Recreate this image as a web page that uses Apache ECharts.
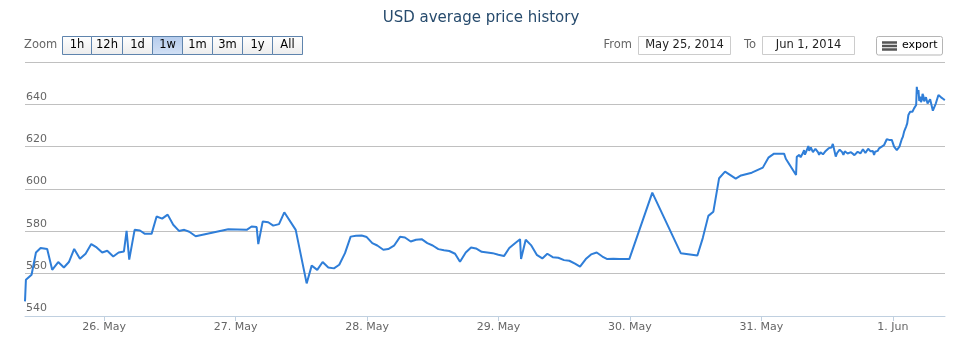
<!DOCTYPE html>
<html>
<head>
<meta charset="utf-8">
<title>USD average price history</title>
<script src="https://cdn.jsdelivr.net/npm/echarts@6/dist/echarts.min.js"></script>
<style>
  html, body { margin: 0; padding: 0; background: #fff; }
  #chart { width: 962px; height: 341px; }
</style>
</head>
<body>
<div id="chart"></div>
<script>
// Average USD price, one array per UTC day: [time, price]
var may25 = [
  ['09:32', 546.9], ['09:42', 557.1], ['10:44', 559.5], ['11:32', 570.0], ['12:23', 572.1],
  ['13:35', 571.7], ['14:30', 561.8], ['15:36', 565.5], ['16:38', 562.9], ['17:33', 565.5],
  ['18:31', 571.7], ['19:34', 567.0], ['20:36', 569.4], ['21:38', 574.0], ['22:37', 572.4],
  ['23:38', 570.0]
];
var may26 = [
  ['00:33', 570.8], ['01:39', 568.1], ['02:38', 570.0], ['03:36', 570.5], ['04:05', 580.2],
  ['04:34', 566.6], ['05:33', 580.7], ['06:31', 580.4], ['07:26', 578.8], ['08:39', 578.8],
  ['09:34', 587.0], ['10:35', 586.0], ['11:35', 587.9], ['12:36', 583.1], ['13:39', 580.2],
  ['14:37', 580.7], ['15:32', 579.8], ['16:42', 577.7], ['22:39', 581.0]
];
var may27 = [
  ['02:01', 580.7], ['02:55', 582.3], ['03:50', 582.0], ['04:08', 574.0], ['04:56', 584.6],
  ['05:57', 584.3], ['06:52', 582.7], ['07:55', 583.4], ['08:53', 589.0], ['10:58', 580.7],
  ['12:58', 555.4], ['13:53', 563.8], ['14:54', 561.8], ['15:53', 565.5], ['16:55', 562.9],
  ['17:57', 562.5], ['18:55', 564.2], ['19:58', 569.7], ['21:00', 577.5], ['21:58', 577.9],
  ['23:01', 578.0], ['23:56', 577.3]
];
var may28 = [
  ['00:57', 574.4], ['01:52', 573.3], ['02:58', 571.3], ['03:52', 571.6], ['04:55', 573.2],
  ['06:01', 577.4], ['06:55', 577.1], ['07:58', 575.2], ['08:56', 576.0], ['09:58', 576.3],
  ['11:00', 574.4], ['11:59', 573.3], ['13:01', 571.6], ['14:03', 571.1], ['15:01', 570.7],
  ['16:04', 569.4], ['16:58', 565.6], ['18:01', 570.0], ['18:59', 572.4], ['19:53', 571.9],
  ['20:56', 570.3], ['21:57', 570.0], ['22:56', 569.7], ['23:58', 568.9]
];
var may29 = [
  ['01:00', 568.3], ['01:58', 572.1], ['03:01', 574.4], ['03:56', 576.3], ['04:07', 566.9],
  ['04:58', 576.0], ['05:56', 573.5], ['06:59', 568.9], ['08:00', 567.2], ['08:55', 569.4],
  ['09:54', 567.8], ['10:55', 567.5], ['11:58', 566.4], ['12:56', 566.1], ['13:58', 564.7],
  ['14:53', 563.3], ['15:56', 566.9], ['16:54', 569.1], ['17:56', 570.0], ['18:58', 568.1],
  ['19:52', 566.9], ['20:58', 567.0], ['22:04', 566.9], ['23:53', 566.9]
];
var may30 = [
  ['04:05', 598.3], ['09:17', 569.7], ['12:19', 568.6], ['13:18', 576.8], ['14:19', 587.3],
  ['15:14', 589.3], ['16:17', 605.1], ['17:22', 608.2], ['19:19', 604.9], ['20:17', 606.4],
  ['22:15', 607.7]
];
var may31 = [
  ['00:16', 610.1], ['01:17', 614.8], ['02:19', 616.7], ['04:09', 616.7], ['04:28', 614.3],
  ['06:20', 606.6], ['06:28', 615.2], ['06:40', 614.6], ['06:56', 616.1], ['07:10', 615.0],
  ['07:23', 615.6], ['07:35', 617.0], ['07:48', 618.4], ['07:57', 616.2], ['08:07', 617.2],
  ['08:20', 616.8], ['08:35', 620.3], ['08:44', 618.0], ['08:53', 617.6], ['09:02', 619.6],
  ['09:12', 619.2], ['09:25', 617.4], ['09:38', 618.1], ['09:52', 619.0], ['10:07', 618.4],
  ['10:20', 617.4], ['10:33', 616.1], ['10:47', 617.4], ['11:02', 617.9], ['11:15', 616.4],
  ['11:30', 616.9], ['11:45', 618.0], ['12:03', 618.4], ['12:18', 619.3], ['12:33', 620.0],
  ['12:48', 619.6], ['13:03', 621.3], ['13:20', 618.2], ['13:35', 615.3], ['13:50', 617.0],
  ['14:04', 617.6], ['14:18', 618.6], ['14:33', 619.2], ['14:45', 617.4], ['14:59', 616.1],
  ['15:14', 617.8], ['15:28', 618.1], ['15:45', 616.8], ['16:04', 616.6], ['16:22', 617.4],
  ['16:41', 616.6], ['17:00', 616.0], ['17:18', 616.6], ['17:35', 617.6], ['17:51', 618.1],
  ['18:05', 616.8], ['18:20', 617.2], ['18:33', 618.8], ['18:46', 618.4], ['19:00', 617.0],
  ['19:15', 617.6], ['19:30', 619.0], ['19:44', 618.4], ['19:57', 617.8], ['20:10', 617.2],
  ['20:22', 617.9], ['20:35', 616.1], ['20:46', 617.6], ['20:57', 618.4], ['21:14', 618.0],
  ['21:30', 619.2], ['21:45', 619.0], ['21:59', 620.0], ['22:12', 619.6], ['22:25', 620.8],
  ['22:40', 621.5], ['22:54', 623.5], ['23:07', 622.6], ['23:20', 623.2], ['23:35', 622.8],
  ['23:49', 623.2]
];
var jun01 = [
  ['00:14', 620.0], ['00:44', 618.4], ['01:13', 620.0], ['01:38', 623.5], ['01:50', 624.6],
  ['02:04', 627.1], ['02:15', 626.6], ['02:26', 629.5], ['02:38', 631.0], ['02:51', 635.0],
  ['03:10', 636.5], ['03:22', 635.6], ['03:35', 636.5], ['03:53', 638.1], ['04:05', 638.4],
  ['04:16', 639.7], ['04:23', 648.3], ['04:32', 645.0], ['04:41', 646.7], ['04:50', 641.6],
  ['04:59', 643.6], ['05:08', 641.0], ['05:18', 642.0], ['05:26', 645.0], ['05:35', 643.9],
  ['05:44', 641.4], ['05:54', 640.8], ['06:03', 643.4], ['06:13', 642.8], ['06:21', 640.4],
  ['06:30', 641.2], ['06:49', 642.4], ['07:19', 637.0], ['07:52', 640.5], ['08:20', 644.4],
  ['08:49', 643.3], ['09:14', 642.5], ['09:30', 642.0]
];

// Days of the series, in order: [year, month (0-based), day, points]
var days = [
  [2014, 4, 25, may25], [2014, 4, 26, may26], [2014, 4, 27, may27], [2014, 4, 28, may28],
  [2014, 4, 29, may29], [2014, 4, 30, may30], [2014, 4, 31, may31], [2014, 5, 1, jun01]
];

// X axis ticks (midnight UTC) and their labels
var tickDays = [[2014, 4, 26], [2014, 4, 27], [2014, 4, 28], [2014, 4, 29], [2014, 4, 30], [2014, 4, 31], [2014, 5, 1]];
var tickLabels = ['26. May', '27. May', '28. May', '29. May', '30. May', '31. May', '1. Jun'];

// Y axis
var yMin = 540, yMax = 660, yStep = 20;

// Range selector / inputs
var zoomButtons = ['1h', '12h', '1d', '1w', '1m', '3m', '1y', 'All'];
var selectedButton = '1w';
var fromText = 'May 25, 2014';
var toText = 'Jun 1, 2014';

var seriesData = [];
days.forEach(function (d) {
  d[3].forEach(function (p) {
    var hm = p[0].split(':');
    seriesData.push([Date.UTC(d[0], d[1], d[2], +hm[0], +hm[1]), p[1]]);
  });
});
var tickValues = tickDays.map(function (t) { return Date.UTC(t[0], t[1], t[2]); });
var xMin = Date.UTC(2014, 4, 25, 9, 32);
var xMax = Date.UTC(2014, 5, 1, 9, 32);

var FONT = 'DejaVu Sans';
var UI_FONT = '11.5px ' + FONT;

// Range selector buttons and the date inputs are drawn as graphic elements
var graphics = [];
graphics.push({
  type: 'text',
  style: { text: 'Zoom', x: 24, y: 45.5, verticalAlign: 'middle', fill: '#666', font: UI_FONT }
});
var btnEdges = [62.5, 91.5, 122.5, 152.5, 182.5, 212.5, 242.5, 272.5, 302.5];
zoomButtons.forEach(function (label, i) {
  var x0 = btnEdges[i], x1 = btnEdges[i + 1];
  var sel = label === selectedButton;
  graphics.push({
    type: 'rect',
    shape: { x: x0, y: 36.5, width: x1 - x0, height: 18 },
    style: {
      fill: new echarts.graphic.LinearGradient(0, 0, 0, 1, sel
        ? [{ offset: 0, color: '#b4cbec' }, { offset: 1, color: '#d3e1f5' }]
        : [{ offset: 0, color: '#ffffff' }, { offset: 1, color: '#ececec' }]),
      stroke: '#5f84ad', lineWidth: 1
    }
  });
  graphics.push({
    type: 'text',
    style: {
      text: label, x: (x0 + x1) / 2, y: 45.5, align: 'center', verticalAlign: 'middle',
      fill: '#000', font: UI_FONT
    }
  });
});

graphics.push({
  type: 'text',
  style: { text: 'From', x: 632, y: 45.5, align: 'right', verticalAlign: 'middle', fill: '#666', font: UI_FONT }
});
graphics.push({
  type: 'rect', shape: { x: 638.5, y: 36.5, width: 92, height: 18 },
  style: { fill: '#fff', stroke: '#cccccc', lineWidth: 1 }
});
graphics.push({
  type: 'text',
  style: { text: fromText, x: 684.5, y: 45.5, align: 'center', verticalAlign: 'middle', fill: '#222', font: UI_FONT }
});
graphics.push({
  type: 'text',
  style: { text: 'To', x: 756, y: 45.5, align: 'right', verticalAlign: 'middle', fill: '#666', font: UI_FONT }
});
graphics.push({
  type: 'rect', shape: { x: 762.5, y: 36.5, width: 92, height: 18 },
  style: { fill: '#fff', stroke: '#cccccc', lineWidth: 1 }
});
graphics.push({
  type: 'text',
  style: { text: toText, x: 808.5, y: 45.5, align: 'center', verticalAlign: 'middle', fill: '#222', font: UI_FONT }
});

// Export button
graphics.push({
  type: 'rect', shape: { x: 876.5, y: 36.5, width: 66, height: 18.5, r: 2 },
  style: { fill: '#fff', stroke: '#b5b5b5', lineWidth: 1 }
});
[42.5, 46, 49.5].forEach(function (y) {
  graphics.push({
    type: 'line', shape: { x1: 882, y1: y, x2: 897, y2: y },
    style: { stroke: '#555', lineWidth: 2.5 }
  });
});
graphics.push({
  type: 'text',
  style: { text: 'export', x: 902, y: 45.5, align: 'left', verticalAlign: 'middle', fill: '#000', font: '11px ' + FONT }
});

var chart = echarts.init(document.getElementById('chart'), null, { renderer: 'canvas' });
chart.setOption({
  animation: false,
  backgroundColor: '#fff',
  title: {
    text: 'USD average price history',
    left: 'center', top: 6,
    textStyle: { color: '#274b6d', fontSize: 15, fontWeight: 'normal', fontFamily: FONT }
  },
  grid: { left: 25, right: 17, top: 62, bottom: 25, containLabel: false },
  xAxis: {
    type: 'value',
    min: xMin, max: xMax,
    axisLine: { show: true, lineStyle: { color: '#C0D0E0', width: 1 } },
    axisTick: { show: true, length: 5, customValues: tickValues, lineStyle: { color: '#C0D0E0' } },
    axisLabel: {
      customValues: tickValues,
      color: '#666', fontSize: 11, fontFamily: FONT, margin: 6,
      formatter: function (v) {
        var i = tickValues.indexOf(v);
        return i >= 0 ? tickLabels[i] : '';
      }
    },
    splitLine: { show: false }
  },
  yAxis: {
    type: 'value',
    min: yMin, max: yMax, interval: yStep,
    axisLine: { show: false },
    axisTick: { show: false },
    splitLine: { show: true, lineStyle: { color: '#C0C0C0', width: 1 } },
    axisLabel: {
      inside: true, margin: 1,
      verticalAlign: 'bottom',
      padding: [0, 0, 2, 0],
      color: '#666', fontSize: 11, fontFamily: FONT,
      formatter: function (v) { return v === yMax ? '' : String(v); }
    }
  },
  series: [{
    name: 'USD',
    type: 'line',
    data: seriesData,
    showSymbol: false,
    smooth: false,
    lineStyle: { color: '#2f7ed8', width: 2 },
    itemStyle: { color: '#2f7ed8' },
    z: 3
  }],
  graphic: graphics
});
</script>
</body>
</html>
